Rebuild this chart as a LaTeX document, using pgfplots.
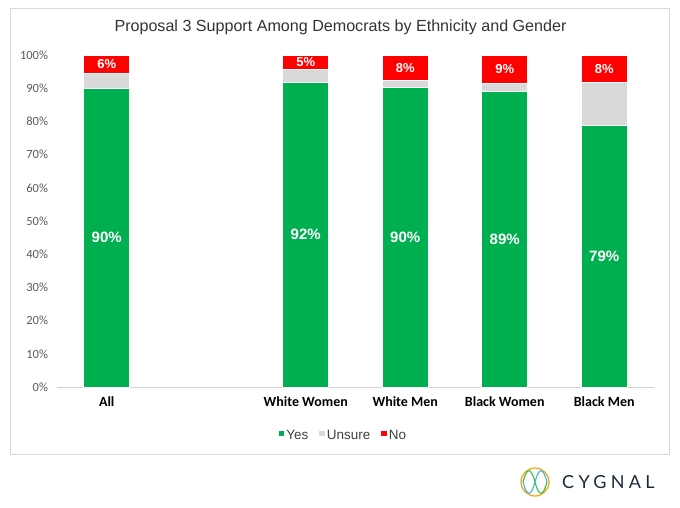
\documentclass[border=0pt]{standalone}
\usepackage{fontspec}
\setmainfont{Liberation Sans}
\newfontfamily\calibri{Carlito}
\newfontfamily\logofont[LetterSpace=24]{Lato}
\usepackage{pgfplots}
\pgfplotsset{compat=1.18}
\definecolor{cgreen}{HTML}{00B050}
\definecolor{cgray}{HTML}{D9D9D9}
\definecolor{cred}{HTML}{FF0000}
\definecolor{framegray}{HTML}{D9D9D9}
\definecolor{ticktext}{HTML}{595959}
\definecolor{navy}{HTML}{1B2A3A}
\definecolor{logoorange}{HTML}{F5A623}
\definecolor{logogreen}{HTML}{3DBB4A}
\definecolor{logoblue}{HTML}{3BB8E0}

\begin{document}
\begin{tikzpicture}[x=1pt,y=1pt]
\path[use as bounding box] (0,0) rectangle (680,507);
\draw[framegray, line width=1pt] (10,53) rectangle (669,498);
\node[font=\fontsize{16.1}{19}\selectfont, text=black!80] at (340.5,480) {Proposal 3 Support Among Democrats by Ethnicity and Gender};

\begin{axis}[at={(57pt,120pt)}, anchor=south west, scale only axis,
  width=597pt, height=332pt,
  xmin=-0.5, xmax=5.5, ymin=0, ymax=100,
  ybar stacked, bar width=46pt,
  axis x line*=bottom, axis y line*=left,
  y axis line style={draw=none},
  x axis line style={draw=black!18, line width=0.8pt},
  major tick length=0pt,
  /pgf/number format/assume math mode=true,
  xtick={0,2,3,4,5},
  xticklabels={All,White Women,White Men,Black Women,Black Men},
  xticklabel style={font=\calibri\bfseries\fontsize{14}{16}\selectfont, text=black, yshift=-6pt},
  ytick={0,10,...,100},
  yticklabel={\pgfmathprintnumber{\tick}\%},
  yticklabel style={font=\calibri\fontsize{12.5}{14}\selectfont, text=ticktext, xshift=-5.5pt},
  legend style={at={(0.48,-0.145)}, anchor=center, draw=none, legend columns=3,
    font=\fontsize{13.5}{15}\selectfont, text=black!75,
    /tikz/every even column/.append style={column sep=9pt}},
  legend image code/.code={\fill[#1,draw=none] (0pt,-1pt) rectangle (5.5pt,4.5pt);},
]
\addplot[fill=cgreen, draw=white, line width=1pt] coordinates {(0,90.0) (2,91.8) (3,90.2) (4,88.9) (5,78.9)};
\addplot[fill=cgray, draw=white, line width=1pt] coordinates {(0,4.3) (2,3.7) (3,2.1) (4,2.5) (5,12.9)};
\addplot[fill=cred, draw=white, line width=1pt] coordinates {(0,5.7) (2,4.5) (3,7.7) (4,8.6) (5,8.2)};
\legend{Yes,Unsure,No}
\end{axis}

\begin{axis}[at={(57pt,120pt)}, anchor=south west, scale only axis,
  width=597pt, height=332pt,
  xmin=-0.5, xmax=5.5, ymin=0, ymax=100, hide axis, clip=false]
\addplot[draw=none, mark=none, nodes near coords, point meta=explicit symbolic,
  every node near coord/.append style={anchor=center, text=white, font=\bfseries\fontsize{15}{18}\selectfont}]
  coordinates {(0,45.0) [90\%] (2,45.9) [92\%] (3,45.1) [90\%] (4,44.45) [89\%] (5,39.45) [79\%]};
\addplot[draw=none, mark=none, nodes near coords, point meta=explicit symbolic,
  every node near coord/.append style={anchor=center, text=white, font=\bfseries\fontsize{13}{15}\selectfont}]
  coordinates {(0,97.15) [6\%] (2,97.75) [5\%] (3,96.15) [8\%] (4,95.7) [9\%] (5,95.9) [8\%]};
\end{axis}

% logo
\draw[logoorange, line width=1.3pt] (535,25) circle (14);
\draw[logogreen, line width=1.1pt] (523,25) .. controls (527,40) and (531,40) .. (535,25) .. controls (539,10) and (543,10) .. (547,25);
\draw[logoblue, line width=1.1pt] (523,25) .. controls (527,10) and (531,10) .. (535,25) .. controls (539,40) and (543,40) .. (547,25);
\node[anchor=west, font=\logofont\fontsize{18}{22}\selectfont, text=navy, inner sep=0pt] at (562,25) {CYGNAL};
\end{tikzpicture}
\end{document}
